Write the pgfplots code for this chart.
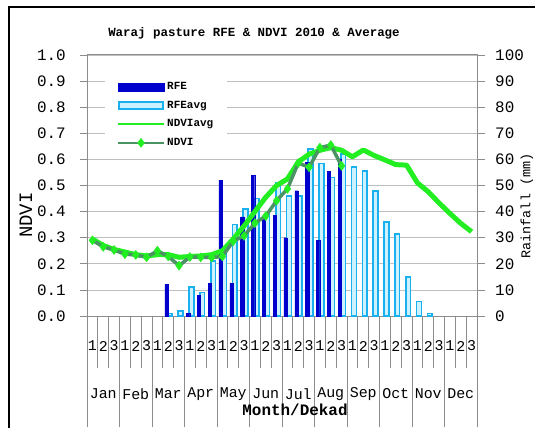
\documentclass[border=0pt]{standalone}
\usepackage{pgfplots}
\pgfplotsset{compat=1.18}
\usepackage{fontspec}
\setmainfont{Liberation Serif}
\newfontfamily\mono{Liberation Mono}
\definecolor{rfe}{HTML}{0000CC}
\definecolor{rfeavg}{HTML}{18B0EE}
\definecolor{rfeavgfill}{HTML}{CCF2FF}
\definecolor{ndviavg}{HTML}{22EE22}
\definecolor{ndvi}{HTML}{4A9464}
\definecolor{gridc}{HTML}{BFBFBF}
\definecolor{axisc}{HTML}{8C8C8C}
\pgfplotsset{
  longline/.style={legend image code/.code={\draw[##1, line width=2.5bp] (0bp,0bp) -- (46bp,0bp);}},
  longmark/.style={legend image code/.code={\draw[##1, line width=2.5bp, mark repeat=2, mark phase=2] plot coordinates {(0bp,0bp) (23bp,0bp) (46bp,0bp)};}},
}
\begin{document}
\begin{tikzpicture}[x=1bp,y=1bp]
\useasboundingbox (0,0) rectangle (535,428);
\fill[white] (0,0) rectangle (535,428);
\draw[black, line width=1.3bp] (9,0) -- (9,421) -- (535,421);

% Rainfall axis (right) with bars and grid
\begin{axis}[
  at={(87bp,112bp)}, anchor=south west, scale only axis,
  width=390bp, height=261bp,
  xmin=0, xmax=36, ymin=0, ymax=100,
  axis line style={axisc, line width=1bp},
  tick align=outside,
  major tick length=8bp, minor tick length=52bp,
  every tick/.style={axisc, line width=0.8bp},
  ytick={0,10,20,30,40,50,60,70,80,90,100},
  yticklabels={0,10,20,30,40,50,60,70,80,90,100},
  ytick pos=right, yticklabel pos=right,
  yticklabel style={font=\mono\fontsize{16}{16}\selectfont, anchor=west, inner sep=0pt, xshift=10bp},
  ymajorgrids, grid style={gridc, line width=0.8bp},
  xtick={0.5,1.5,...,35.5},
  xticklabels={1,2,3,1,2,3,1,2,3,1,2,3,1,2,3,1,2,3,1,2,3,1,2,3,1,2,3,1,2,3,1,2,3,1,2,3},
  minor xtick={0,1,...,36},
  xtick pos=bottom,
  every major x tick/.append style={draw=none},
  xticklabel style={font=\mono\fontsize{15}{15}\selectfont, anchor=center, inner sep=0pt, yshift=-22bp},
]
\addplot[ybar, bar width=0.44, bar shift=0pt, fill=rfeavgfill, draw=rfeavg, line width=1.6bp] coordinates {
(7.64,1) (8.64,2) (9.64,11) (10.64,9) (11.64,21) (12.64,24) (13.64,35) (14.64,41) (15.64,45)
(16.64,39) (17.64,51) (18.64,46) (19.64,46) (20.64,64) (21.64,58.5) (22.64,53) (23.64,62)
(24.64,57) (25.64,55.5) (26.64,48) (27.64,36) (28.64,31.5) (29.64,15) (30.64,5.5) (31.64,1)
};
\addplot[ybar, bar width=0.3, bar shift=0pt, fill=rfe, draw=rfe] coordinates {
(7.33,12) (9.33,1) (10.33,8) (11.33,12.5) (12.33,52) (13.33,12.5) (14.33,38) (15.33,54)
(16.33,37) (17.33,38.5) (18.33,30) (19.33,48) (20.33,59) (21.33,29) (22.33,55.5) (23.33,60)
};
\end{axis}

% NDVI axis (left) with lines and legend
\begin{axis}[
  at={(87bp,112bp)}, anchor=south west, scale only axis,
  width=390bp, height=261bp,
  xmin=0, xmax=36, ymin=0, ymax=1,
  axis line style={draw=none},
  tick align=outside,
  major tick length=7bp, minor tick length=111bp,
  every tick/.style={axisc, line width=0.8bp},
  ytick={0,0.1,0.2,0.3,0.4,0.5,0.6,0.7,0.8,0.9,1},
  yticklabels={0.0,0.1,0.2,0.3,0.4,0.5,0.6,0.7,0.8,0.9,1.0},
  ytick pos=left,
  yticklabel style={font=\mono\fontsize{16}{16}\selectfont, anchor=east, inner sep=0pt, xshift=-14bp},
  xtick={1.5,4.5,...,34.5},
  xticklabels={Jan,Feb,Mar,Apr,May,Jun,Jul,Aug,Sep,Oct,Nov,Dec},
  minor xtick={0,3,...,36},
  xtick pos=bottom,
  every major x tick/.append style={draw=none},
  xticklabel style={font=\mono\fontsize{15}{15}\selectfont, anchor=center, inner sep=0pt, yshift=-71bp},
  legend style={at={(0.045,0.915)}, anchor=north west, draw=none, fill=white,
    inner xsep=12bp, inner ysep=3bp, row sep=6bp,
    font=\mono\bfseries\fontsize{11}{11}\selectfont, cells={anchor=west}},
  legend cell align=left,
]
\addlegendimage{legend image code/.code={\fill[rfe] (0bp,-4bp) rectangle (46bp,4bp);}}
\addlegendentry{RFE}
\addlegendimage{legend image code/.code={\draw[fill=rfeavgfill,draw=rfeavg,line width=2bp] (1bp,-3.2bp) rectangle (45bp,3.2bp);}}
\addlegendentry{RFEavg}
\addplot[ndviavg, line width=5bp, line join=round, longline] coordinates {
(0.5,0.295) (1.5,0.27) (2.5,0.255) (3.5,0.245) (4.5,0.235) (5.5,0.23) (6.5,0.235) (7.5,0.235)
(8.5,0.225) (9.5,0.228) (10.5,0.23) (11.5,0.235) (12.5,0.25) (13.5,0.295) (14.5,0.345)
(15.5,0.40) (16.5,0.455) (17.5,0.50) (18.5,0.525) (19.5,0.59) (20.5,0.62) (21.5,0.635)
(22.5,0.645) (23.5,0.635) (24.5,0.61) (25.5,0.636) (26.5,0.615) (27.5,0.598) (28.5,0.58)
(29.5,0.578) (30.5,0.51) (31.5,0.476) (32.5,0.433) (33.5,0.393) (34.5,0.355) (35.5,0.323)
};
\addlegendentry{NDVIavg}
\addplot[ndvi, line width=3.5bp, line join=round, mark=diamond*, mark size=4.5bp,
  mark options={fill=ndviavg, draw=ndviavg, line width=0.5bp}, longmark] coordinates {
(0.5,0.29) (1.5,0.265) (2.5,0.253) (3.5,0.237) (4.5,0.234) (5.5,0.225) (6.5,0.25) (7.5,0.228)
(8.5,0.193) (9.5,0.226) (10.5,0.225) (11.5,0.224) (12.5,0.228) (13.5,0.287) (14.5,0.307)
(15.5,0.356) (16.5,0.383) (17.5,0.442) (18.5,0.487) (19.5,0.586) (20.5,0.57) (21.5,0.645)
(22.5,0.655) (23.5,0.575)
};
\addlegendentry{NDVI}
\end{axis}

\node[font=\mono\bfseries\fontsize{12.5}{12.5}\selectfont] at (254,395) {Waraj pasture RFE \& NDVI 2010 \& Average};
\node[rotate=90, font=\mono\fontsize{19}{19}\selectfont] at (26,213) {NDVI};
\node[rotate=90, font=\mono\fontsize{13.5}{13.5}\selectfont] at (527,222) {Rainfall (mm)};
\node[font=\mono\bfseries\fontsize{16}{16}\selectfont] at (295,18) {Month/Dekad};
\end{tikzpicture}
\end{document}
